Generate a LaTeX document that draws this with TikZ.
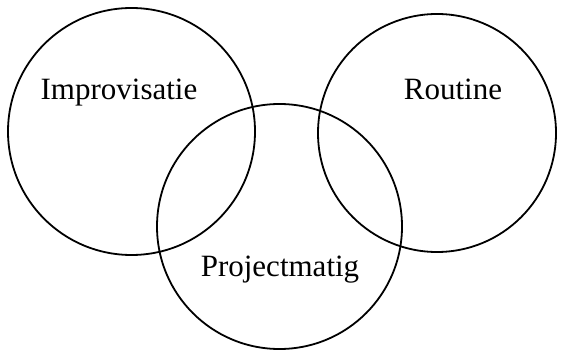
\documentclass[tikz,border=0pt]{standalone}
\usepackage{fontspec}
\setmainfont{Liberation Serif}
\begin{document}
\begin{tikzpicture}[x=1pt,y=-1pt,
  ring/.style={draw=black,line width=1.8pt},
  lbl/.style={anchor=base,inner sep=0pt,font=\fontsize{31}{31}\selectfont}]
\useasboundingbox (0,0) rectangle (561,352);
% the three overlapping circles
\node[ring,circle,minimum size=247pt,inner sep=0pt] (impro) at (131.5,131.5) {};
\node[ring,circle,minimum size=238pt,inner sep=0pt] (routine) at (437,133) {};
\node[ring,circle,minimum size=245pt,inner sep=0pt] (project) at (279.5,226.5) {};
% labels
\node[lbl] (timpro) at (119,100) {Improvisatie};
\node[lbl] (troutine) at (453,100) {Routine};
\node[lbl] (tproject) at (280,276) {Projectmatig};
\end{tikzpicture}
\end{document}
